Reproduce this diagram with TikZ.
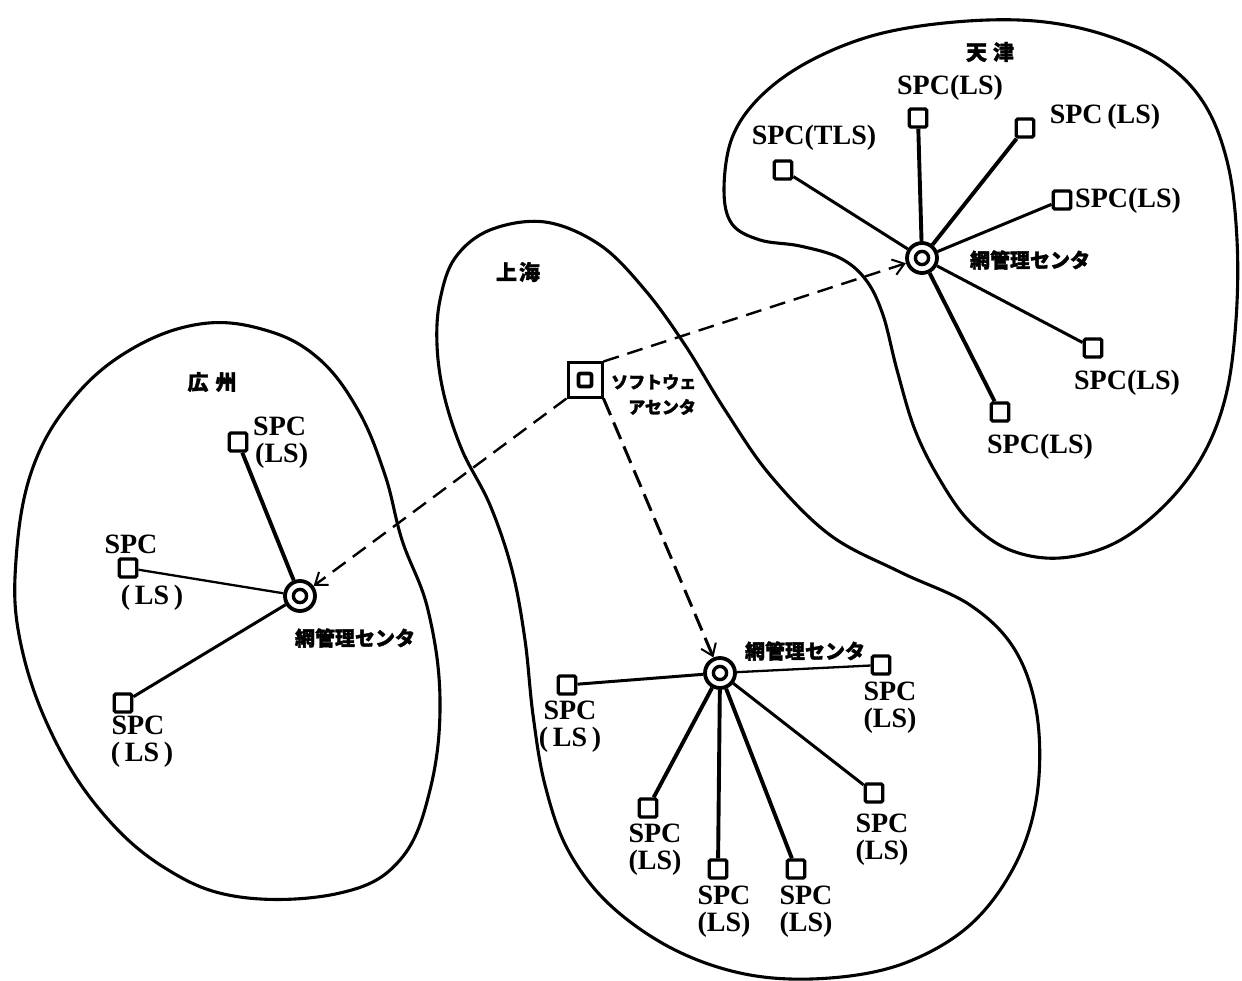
\documentclass[tikz,border=0pt]{standalone}
\usepackage{fontspec}
\setmainfont{Liberation Serif}
\newfontfamily\jp[BoldFeatures={FakeBold=1.6}]{Noto Sans CJK JP}
\usetikzlibrary{arrows.meta}
\tikzset{
  region/.style={line width=3.1pt, line join=round},
  spc/.style={draw, rectangle, rounded corners=1.5pt, line width=3.4pt,
    minimum width=17.5pt, minimum height=18pt, inner sep=0pt},
  hub/.style={draw, circle, line width=3.8pt, minimum size=30pt, inner sep=0pt,
    path picture={\draw[line width=3.4pt] (path picture bounding box.center) circle (6.6pt);}},
  soft/.style={draw, rectangle, line width=3pt, minimum size=34pt, inner sep=0pt,
    path picture={\draw[line width=3.8pt, rounded corners=2pt]
      ([shift={(-6.5pt,-6.5pt)}]path picture bounding box.center) rectangle
      ([shift={(6.5pt,6.5pt)}]path picture bounding box.center);}},
  lbl/.style={font=\fontsize{28}{27}\selectfont\bfseries, inner sep=0pt, align=center},
  jlbl/.style={font=\jp\bfseries\fontsize{20}{22}\selectfont, inner sep=0pt},
  swlbl/.style={font=\jp\bfseries\fontsize{17}{19}\selectfont, inner sep=0pt, anchor=west},
  city/.style={font=\jp\bfseries\fontsize{21}{23}\selectfont, inner sep=0pt},
  thin/.style={line width=2.3pt},
  mid/.style={line width=3pt},
  thick/.style={line width=3.9pt},
  remote/.style={line width=2.4pt, dash pattern=on 16pt off 9pt,
    -{Straight Barb[length=11pt,width=16pt,line width=2pt]}},
}
\begin{document}
\begin{tikzpicture}[x=1pt,y=-1pt]
\useasboundingbox (0,0) rectangle (1242,981);

% ---- region outlines ----
% 広州
\draw[region] plot[smooth cycle, tension=0.65] coordinates {
  (200,324) (265,330) (318,358) (358,410) (385,475) (402,540) (428,610)
  (440,700) (430,790) (400,860) (340,893) (240,897) (165,868) (100,810)
  (50,730) (20,640) (16,560) (32,470) (72,400) (130,350)};
% 上海
\draw[region] plot[smooth cycle, tension=0.6] coordinates {
  (440,300) (455,258) (490,230) (545,222) (600,245) (645,290) (685,345)
  (725,410) (770,475) (830,535) (900,572) (970,605) (1015,650) (1037,715)
  (1037,795) (1015,865) (970,925) (905,963) (830,978) (750,975) (675,950)
  (610,905) (568,850) (545,785) (533,715) (525,640) (512,570) (490,505)
  (462,450) (444,395) (437,345)};
% 天津
\draw[region] plot[smooth cycle, tension=0.6] coordinates {
  (724,190) (732,138) (760,97) (808,62) (875,35) (955,22) (1035,21)
  (1105,35) (1165,63) (1205,105) (1228,165) (1237,240) (1236,320)
  (1226,395) (1203,455) (1165,505) (1115,543) (1060,558) (1010,550)
  (970,522) (940,480) (915,430) (897,370) (883,315) (866,280) (840,258)
  (800,246) (760,240) (732,224)};

% ---- 広州 ----
\node[city] (gname) at (212,382) {広\hspace{7pt}州};
\node[hub] (gc) at (300,596) {};
\node[spc] (g1) at (238,442) {};
\node[spc] (g2) at (128,568) {};
\node[spc] (g3) at (123,703) {};
\draw[thick] (gc) -- (g1);
\draw[thin] (gc) -- (g2);
\draw[mid] (gc) -- (g3);
\node[lbl, anchor=west, align=left] (g1l) at (253,443) {SPC\\\hspace{2pt}(LS)};
\node[lbl] (g2a) at (131,544) {SPC};
\node[lbl] (g2b) at (152,598) {(\,LS\,)};
\node[lbl] (g3l) at (138,742) {SPC\\\hspace{8pt}(\,LS\,)};
\node[jlbl] (gcl) at (355,638) {網管理センタ};

% ---- 上海 ----
\node[city] (sname) at (518,272) {上\hspace{2pt}海};
\node[soft] (sw) at (585,380) {};
\node[swlbl] (swa) at (611,382) {ソフトウェ};
\node[swlbl] (swb) at (628,407) {アセンタ};
\node[hub] (sc) at (720,673) {};
\node[spc] (s1) at (567,685) {};
\node[spc] (s2) at (881,665) {};
\node[spc] (s3) at (648,808) {};
\node[spc] (s4) at (718,869) {};
\node[spc] (s5) at (796,869) {};
\node[spc] (s6) at (874,793) {};
\draw[mid] (sc) -- (s1);
\draw[thin] (sc) -- (s2);
\draw[thick] (sc) -- (s3);
\draw[thick] (sc) -- (s4);
\draw[thick] (sc) -- (s5);
\draw[mid] (sc) -- (s6);
\node[lbl] (s1l) at (570,727) {SPC\\(\,LS\,)};
\node[lbl] (s2l) at (890,708) {SPC\\(LS)};
\node[lbl] (s3l) at (655,850) {SPC\\(LS)};
\node[lbl] (s4l) at (724,912) {SPC\\(LS)};
\node[lbl] (s5l) at (806,912) {SPC\\(LS)};
\node[lbl] (s6l) at (882,840) {SPC\\(LS)};
\node[jlbl] (scl) at (805,651) {網管理センタ};

% ---- 天津 ----
\node[city] (tname) at (990,52) {天\hspace{6pt}津};
\node[hub] (tc) at (922,258) {};
\node[spc] (t1) at (783,170) {};
\node[spc] (t2) at (918,118) {};
\node[spc] (t3) at (1025,128) {};
\node[spc] (t4) at (1062,200) {};
\node[spc] (t5) at (1093,348) {};
\node[spc] (t6) at (1000,412) {};
\draw[mid] (tc) -- (t1);
\draw[thick] (tc) -- (t2);
\draw[thick] (tc) -- (t3);
\draw[mid] (tc) -- (t4);
\draw[mid] (tc) -- (t5);
\draw[thick] (tc) -- (t6);
\node[lbl] (t1l) at (814,138) {SPC(TLS)};
\node[lbl] (t2l) at (950,88) {SPC(LS)};
\node[lbl] (t3l) at (1105,117) {SPC\,(LS)};
\node[lbl, anchor=west] (t4l) at (1075,201) {SPC(LS)};
\node[lbl] (t5l) at (1127,383) {SPC(LS)};
\node[lbl] (t6l) at (1040,447) {SPC(LS)};
\node[jlbl] (tcl) at (1030,260) {網管理センタ};

% ---- links from the software centre ----
\draw[remote] (sw.north east) -- (tc);
\draw[remote] (sw.south west) -- (gc);
\draw[remote, line width=3pt, dash pattern=on 18pt off 8pt] (sw.south east) -- (sc);
\end{tikzpicture}
\end{document}
